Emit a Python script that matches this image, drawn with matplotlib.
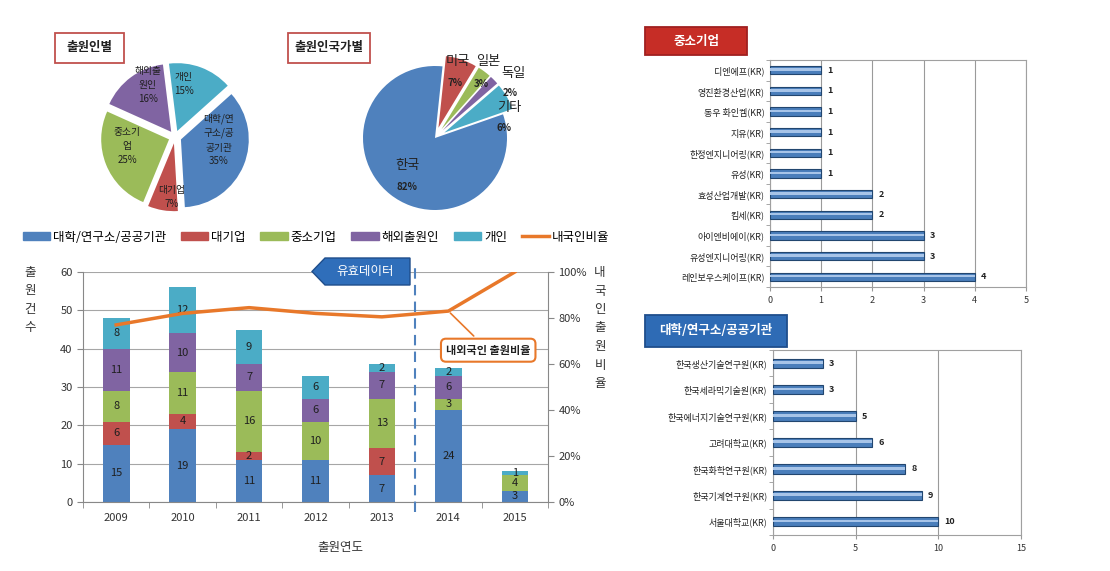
import numpy as np
import matplotlib
matplotlib.use("Agg")
import matplotlib.pyplot as plt
from matplotlib.patches import Patch, Polygon, Rectangle
from matplotlib.lines import Line2D

plt.rcParams['font.family'] = ['Noto Sans CJK KR', 'DejaVu Sans']

# ---------------- data ----------------
applicant_types = ['대학/연구소/공공기관', '대기업', '중소기업', '해외출원인', '개인']
type_colors = ['#4F81BD', '#C0504D', '#9BBB59', '#8064A2', '#4BACC6']

# pie 1 (clockwise from top): 개인, 대학, 대기업, 중소기업, 해외출원인
pie1_labels = ['개인', '대학/연\n구소/공\n공기관', '대기업', '중소기\n업', '해외출\n원인']
pie1_pct = [15, 35, 7, 25, 16]
pie1_colors = ['#4BACC6', '#4F81BD', '#C0504D', '#9BBB59', '#8064A2']

# pie 2 (clockwise from top): 미국, 일본, 독일, 기타, 한국
pie2_labels = ['미국', '일본', '독일', '기타', '한국']
pie2_pct = [7, 3, 2, 6, 82]
pie2_colors = ['#C0504D', '#9BBB59', '#8064A2', '#4BACC6', '#4F81BD']

years = ['2009', '2010', '2011', '2012', '2013', '2014', '2015']
univ = [15, 19, 11, 11, 7, 24, 3]
large = [6, 4, 2, 0, 7, 0, 0]
sme = [8, 11, 16, 10, 13, 3, 4]
foreign = [11, 10, 7, 6, 7, 6, 0]
indiv = [8, 12, 9, 6, 2, 2, 1]
domestic_ratio = [0.77, 0.82, 0.845, 0.82, 0.805, 0.83, 1.00]

sme_names = ['디엔에프(KR)', '영진환경산업(KR)', '동우 화인켐(KR)', '지유(KR)', '한정엔지니어링(KR)',
             '유성(KR)', '효성산업개발(KR)', '킴세(KR)', '아이엔비에이(KR)', '유성엔지니어링(KR)',
             '레인보우스케이프(KR)']
sme_counts = [1, 1, 1, 1, 1, 1, 2, 2, 3, 3, 4]

univ_names = ['한국생산기술연구원(KR)', '한국세라믹기술원(KR)', '한국에너지기술연구원(KR)', '고려대학교(KR)',
              '한국화학연구원(KR)', '한국기계연구원(KR)', '서울대학교(KR)']
univ_counts = [3, 3, 5, 6, 8, 9, 10]

# ---------------- layout helpers ----------------
W, H = 1110, 571
fig = plt.figure(figsize=(W / 100, H / 100), dpi=100)


def box(x0, y0, x1, y1):
    return [x0 / W, 1 - y1 / H, (x1 - x0) / W, (y1 - y0) / H]


def ftext(px, py, s, **kw):
    fig.text(px / W, 1 - py / H, s, ha='center', va='center', **kw)


def title_box(x0, y0, x1, y1, text, fc, ec, tc, fs=9):
    fig.patches.append(Rectangle((x0 / W, 1 - y1 / H), (x1 - x0) / W, (y1 - y0) / H,
                                 transform=fig.transFigure, fc=fc, ec=ec, lw=1.3))
    ftext((x0 + x1) / 2, (y0 + y1) / 2, text, color=tc, fontsize=fs, fontweight='bold')


# ---------------- pie 1 ----------------
title_box(55, 33, 124, 63, '출원인별', 'white', '#C0504D', '#222222')
ax_p1 = fig.add_axes(box(95, 57, 255, 217))
ax_p1.pie(pie1_pct, colors=pie1_colors, startangle=97, counterclock=False, radius=1.06,
          explode=[0.1] * 5, wedgeprops=dict(lw=0))
ax_p1.set_xlim(-1.25, 1.25)
ax_p1.set_ylim(-1.25, 1.25)
pie1_pos = [(184, 84), (219, 140), (172, 197), (127, 146), (148, 85)]
for (px, py), lab, p in zip(pie1_pos, pie1_labels, pie1_pct):
    ftext(px, py, f'{lab}\n{p}%', fontsize=7, color='#1F1F1F', linespacing=1.5)

# ---------------- pie 2 ----------------
title_box(288, 33, 370, 63, '출원인국가별', 'white', '#C0504D', '#222222')
ax_p2 = fig.add_axes(box(345, 48, 525, 228))
ax_p2.pie(pie2_pct, colors=pie2_colors, startangle=84, counterclock=False,
          explode=[0.15, 0.15, 0.15, 0.15, 0], wedgeprops=dict(lw=0))
ax_p2.set_xlim(-1.25, 1.25)
ax_p2.set_ylim(-1.25, 1.25)
pie2_name_pos = [(458, 62), (488, 62), (513, 73), (509, 108), (407, 165)]
pie2_pct_pos = [(455, 83), (481, 84), (510, 93), (504, 128), (407, 187)]
for (nx, ny), (qx, qy), lab, p in zip(pie2_name_pos, pie2_pct_pos, pie2_labels, pie2_pct):
    ftext(nx, ny, lab, fontsize=9.5, color='#222222')
    ftext(qx, qy, f'{p}%', fontsize=7, color='#222222', fontweight='bold')

# ---------------- stacked bar chart ----------------
ax = fig.add_axes(box(83, 272, 548, 502))
x = np.arange(len(years))
bottom = np.zeros(len(years))
for vals, col in zip([univ, large, sme, foreign, indiv], type_colors):
    vals = np.array(vals)
    ax.bar(x, vals, 0.4, bottom=bottom, color=col, zorder=2)
    for xi, b, v in zip(x, bottom, vals):
        if v > 0:
            ax.text(xi, b + v / 2, str(v), ha='center', va='center', fontsize=8, color='#1F1F1F', zorder=3)
    bottom += vals

ax.set_xlim(-0.5, 6.5)
ax.set_ylim(0, 60)
ax.set_yticks(np.arange(0, 61, 10))
ax.set_xticks(x)
ax.set_xticklabels(years)
ax.set_xticks(np.arange(-0.5, 7, 1), minor=True)
ax.tick_params(axis='x', which='major', length=0, labelsize=8, colors='#333333', pad=8)
ax.tick_params(axis='x', which='minor', length=4, color='#888888')
ax.tick_params(axis='y', length=4, labelsize=8, colors='#333333', color='#888888')
ax.grid(axis='y', color='#A6A6A6', lw=0.8, zorder=0)
ax.set_axisbelow(True)
for s in ['top', 'right']:
    ax.spines[s].set_visible(False)
for s in ['left', 'bottom']:
    ax.spines[s].set_color('#888888')

ax2 = ax.twinx()
ax2.plot(x, domestic_ratio, color='#E8782A', lw=2.5, zorder=4)
ax2.set_ylim(0, 1)
ax2.set_yticks(np.arange(0, 1.01, 0.2))
ax2.set_yticklabels([f'{int(round(v * 100))}%' for v in np.arange(0, 1.01, 0.2)])
ax2.tick_params(axis='y', length=4, labelsize=8, colors='#333333', color='#888888')
for s in ['top', 'left', 'bottom']:
    ax2.spines[s].set_visible(False)
ax2.spines['right'].set_color('#888888')

# valid-data divider
ax.axvline(4.5, ymin=-0.045, ymax=1.04, color='#4F81BD', ls=(0, (5, 3)), lw=1.5, clip_on=False, zorder=5)

# "유효데이터" arrow label
pts = [(312, 271.5), (325, 258), (410, 258), (410, 285), (325, 285)]
fig.patches.append(Polygon([(px / W, 1 - py / H) for px, py in pts], closed=True,
                           transform=fig.transFigure, fc='#2F6EBA', ec='#1F4E8C', lw=1))
ftext(365, 271.5, '유효데이터', fontsize=9, color='white')

# callout for ratio line
ax2.annotate('내외국인 출원비율', xy=(x[5], domestic_ratio[5]), xytext=(5.6, 0.66),
             ha='center', va='center', fontsize=8, fontweight='bold', color='#222222',
             bbox=dict(boxstyle='round,pad=0.45', fc='white', ec='#E8782A', lw=1.5),
             arrowprops=dict(arrowstyle='-', color='#E8782A', lw=1.2), zorder=6)

# axis titles
ftext(30, 300, '출\n원\n건\n수', fontsize=9, color='#333333', linespacing=1.55)
ftext(600, 328, '내\n국\n인\n출\n원\n비\n율', fontsize=9, color='#333333', linespacing=1.55)
ftext(340, 548, '출원연도', fontsize=9, color='#333333')

# legend
handles = [Patch(color=c) for c in type_colors] + [Line2D([], [], color='#E8782A', lw=2.5)]
fig.legend(handles, applicant_types + ['내국인비율'], loc='center',
           bbox_to_anchor=(316 / W, 1 - 237 / H), ncol=6, frameon=False, fontsize=9,
           handlelength=2.2, handleheight=0.6, handletextpad=0.2, columnspacing=1.2)


# ---------------- horizontal bar charts ----------------
def hbar(rect, names, counts, xmax, step, height):
    a = fig.add_axes(rect)
    n = len(names)
    y = np.arange(n)[::-1]
    a.barh(y, counts, height, color='#4A7EBB', edgecolor='#22466F', lw=0.8, zorder=3)
    a.barh(y + height * 0.08, counts, height * 0.3, color='#A7C4E8', lw=0, zorder=4)
    for yi, v in zip(y, counts):
        a.text(v + xmax * 0.025, yi, str(v), va='center', ha='left', fontsize=6.5,
               color='#222222', fontweight='bold')
    a.set_xlim(0, xmax)
    a.set_ylim(-0.5, n - 0.5)
    a.set_xticks(np.arange(0, xmax + 1, step))
    a.set_yticks(y)
    a.set_yticklabels(names)
    a.set_yticks(np.arange(-0.5, n, 1), minor=True)
    a.tick_params(axis='y', which='major', length=0, labelsize=6.5, colors='#222222', pad=4)
    a.tick_params(axis='y', which='minor', length=3, color='#999999')
    a.tick_params(axis='x', length=3, labelsize=6.5, colors='#333333', color='#999999')
    a.grid(axis='x', color='#9A9A9A', lw=0.8, zorder=0)
    a.set_axisbelow(True)
    for s in a.spines.values():
        s.set_color('#A0A0A0')
    return a


title_box(645, 27, 747, 55, '중소기업', '#C62D26', '#A02020', 'white')
hbar(box(770, 60, 1026, 287), sme_names, sme_counts, 5, 1, 0.4)

title_box(645, 315, 787, 347, '대학/연구소/공공기관', '#2E6BB5', '#1F4E8C', 'white')
hbar(box(773, 350, 1021, 535), univ_names, univ_counts, 15, 5, 0.35)

fig.savefig('out.png', dpi=100)
